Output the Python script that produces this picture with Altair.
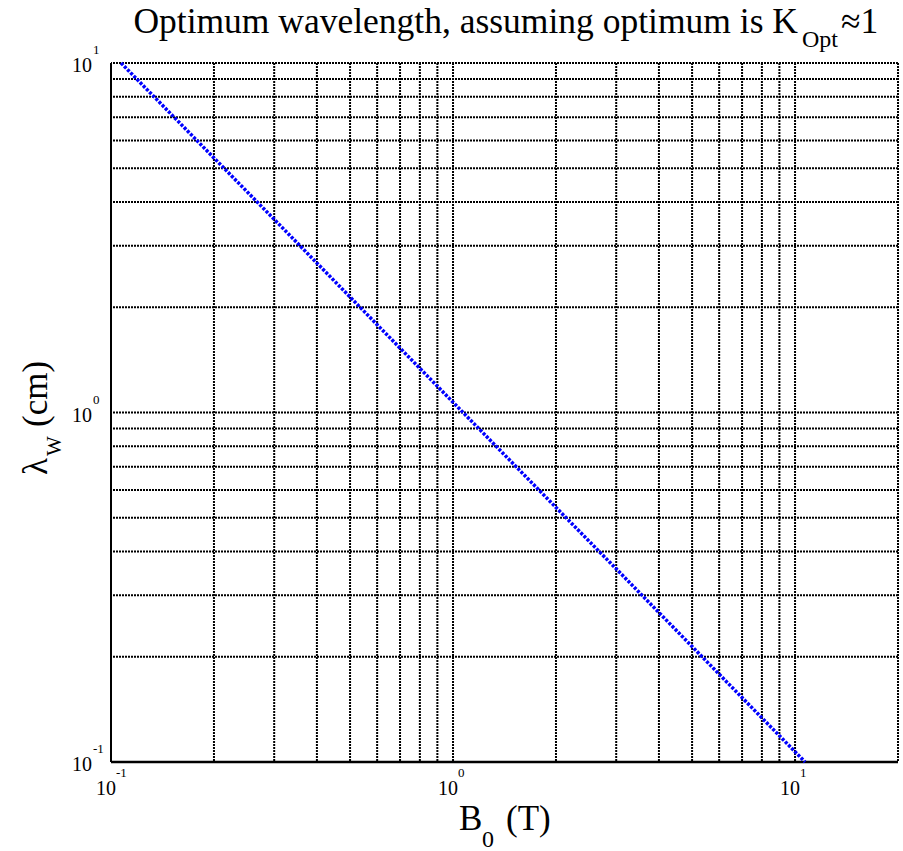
import altair as alt
import pandas as pd

# ---- data ----
B_T = [0.107, 0.2, 0.3, 0.5, 1.0, 2.0, 3.0, 5.0, 10.0, 10.7]
lambda_cm = [10.0, 5.35, 3.57, 2.14, 1.07, 0.535, 0.357, 0.214, 0.107, 0.1]

x_grid = [0.1, 0.2, 0.3, 0.4, 0.5, 0.6, 0.7, 0.8, 0.9,
          1, 2, 3, 4, 5, 6, 7, 8, 9, 10, 20]
y_grid = [0.1, 0.2, 0.3, 0.4, 0.5, 0.6, 0.7, 0.8, 0.9,
          1, 2, 3, 4, 5, 6, 7, 8, 9, 10]

major_ticks = [0.1, 1, 10]
major_exps = ["-1", "0", "1"]

FONT = "Liberation Serif, Times New Roman, Times, DejaVu Serif, serif"
W, H = 787, 699

line_df = pd.DataFrame({"B": B_T, "lam": lambda_cm})
lab_df = pd.DataFrame({"v": major_ticks, "e": major_exps})
xg_df = pd.DataFrame({"g": x_grid})
yg_df = pd.DataFrame({"g": y_grid})
x0_df = pd.DataFrame({"g": [x_grid[0]]})
y0_df = pd.DataFrame({"g": [y_grid[0]]})

xscale = alt.Scale(type="log", domain=[0.1, 20], nice=False)
yscale = alt.Scale(type="log", domain=[0.1, 10], nice=False)

# dotted grid lines
xgrid = alt.Chart(xg_df).mark_rule(color="black", strokeWidth=2, strokeDash=[2, 1]).encode(
    x=alt.X("g:Q", scale=xscale, axis=None))
ygrid = alt.Chart(yg_df).mark_rule(color="black", strokeWidth=2, strokeDash=[2, 1]).encode(
    y=alt.Y("g:Q", scale=yscale, axis=None))

# solid axis lines (left and bottom)
xaxis_line = alt.Chart(y0_df).mark_rule(color="black", strokeWidth=2.5).encode(
    y=alt.Y("g:Q", scale=yscale, axis=None))
yaxis_line = alt.Chart(x0_df).mark_rule(color="black", strokeWidth=2).encode(
    x=alt.X("g:Q", scale=xscale, axis=None))

line = alt.Chart(line_df).mark_line(
    color="#0000ff", strokeWidth=3.5, strokeDash=[3, 1.5]
).encode(
    x=alt.X("B:Q", scale=xscale, axis=None),
    y=alt.Y("lam:Q", scale=yscale, axis=None),
)

# x tick labels: "10" + superscript
xl_base = alt.Chart(lab_df).mark_text(
    font=FONT, fontSize=20, align="right", baseline="alphabetic", dx=5, color="black"
).encode(x=alt.X("v:Q", scale=xscale, axis=None), y=alt.value(H + 33), text=alt.value("10"))
xl_sup = alt.Chart(lab_df).mark_text(
    font=FONT, fontSize=13, align="left", baseline="alphabetic", dx=5, color="black"
).encode(x=alt.X("v:Q", scale=xscale, axis=None), y=alt.value(H + 15), text="e:N")

# y tick labels
yl_base = alt.Chart(lab_df).mark_text(
    font=FONT, fontSize=20, align="right", baseline="alphabetic", dy=9, color="black"
).encode(y=alt.Y("v:Q", scale=yscale, axis=None), x=alt.value(-19), text=alt.value("10"))
yl_sup = alt.Chart(lab_df).mark_text(
    font=FONT, fontSize=13, align="left", baseline="alphabetic", dy=-9, color="black"
).encode(y=alt.Y("v:Q", scale=yscale, axis=None), x=alt.value(-18), text="e:N")


def label(txt, x, y, size, align="left", angle=0):
    return alt.Chart(alt.Data(values=[{}])).mark_text(
        font=FONT, fontSize=size, align=align, baseline="alphabetic",
        angle=angle, color="black", text=txt
    ).encode(x=alt.value(x), y=alt.value(y))


title_parts = [
    label("Optimum wavelength, assuming optimum is K", 687, -30, 35.5, align="right"),
    label("Opt", 691, -16, 24),
    label("\u22481", 730, -30, 35.5),
]
xtitle_parts = [
    label("B", 348, 767, 35),
    label("0", 371, 784, 24),
    label("(T)", 395, 767, 35),
]
ytitle_parts = [
    label("\u03bb", -64, 412, 35, angle=270),
    label("W", -50, 393, 21, angle=270),
    label("(cm)", -64, 364, 35, angle=270),
]

chart = alt.layer(
    xgrid, ygrid, xaxis_line, yaxis_line, line,
    xl_base, xl_sup, yl_base, yl_sup,
    *title_parts, *xtitle_parts, *ytitle_parts
).properties(
    width=W, height=H,
    autosize=alt.AutoSizeParams(type="none"),
    padding={"left": 111, "top": 63, "right": 5, "bottom": 89},
).configure(background="white").configure_view(stroke=None)

chart.save("out.html", embed_options={"renderer": "svg", "actions": False})
